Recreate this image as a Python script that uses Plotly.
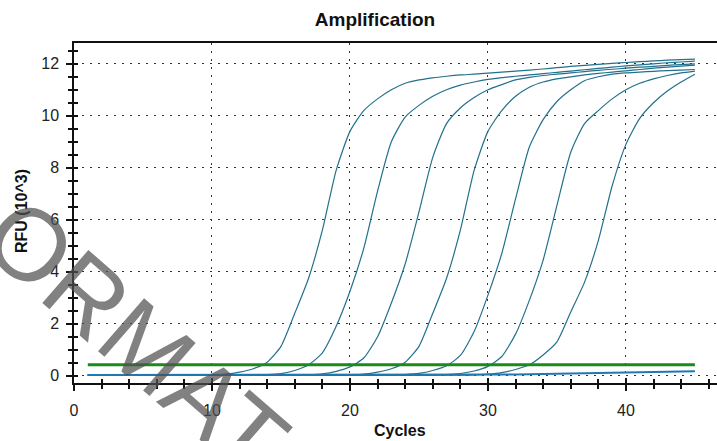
import plotly.graph_objects as go

cycles = list(range(1, 46))

curve_1 = [0.02]*9 + [0.03, 0.06, 0.14, 0.27, 0.52, 1.13, 2.4, 3.75, 5.6, 7.9, 9.4, 10.2, 10.65, 11.0, 11.25,
           11.38, 11.46, 11.52, 11.57, 11.6, 11.64, 11.68, 11.72, 11.76, 11.8, 11.85, 11.9, 11.94, 11.98,
           12.02, 12.05, 12.08, 12.11, 12.14, 12.16, 12.18]
curve_2 = [0.02]*12 + [0.025, 0.04, 0.08, 0.2, 0.42, 0.88, 1.9, 3.25, 4.9, 7.1, 9.0, 9.95, 10.4, 10.75, 11.0,
           11.18, 11.3, 11.4, 11.47, 11.52, 11.57, 11.62, 11.67, 11.72, 11.77, 11.82, 11.87, 11.92, 11.96,
           12.0, 12.04, 12.07, 12.1]
curve_3 = [0.02]*16 + [0.04, 0.075, 0.17, 0.34, 0.68, 1.5, 2.8, 4.3, 6.3, 8.4, 9.7, 10.3, 10.7, 11.0, 11.2,
           11.38, 11.48, 11.55, 11.6, 11.65, 11.7, 11.75, 11.79, 11.83, 11.87, 11.9, 11.94, 11.97, 12.0]
curve_4 = [0.02]*19 + [0.03, 0.06, 0.14, 0.27, 0.52, 1.13, 2.4, 3.75, 5.6, 7.9, 9.4, 10.2, 10.75, 11.1, 11.3,
           11.42, 11.5, 11.57, 11.63, 11.68, 11.73, 11.78, 11.83, 11.87, 11.91, 11.95]
curve_5 = [0.02]*22 + [0.025, 0.045, 0.09, 0.2, 0.38, 0.78, 1.7, 3.1, 4.7, 6.8, 8.8, 9.85, 10.55, 11.0, 11.35,
           11.5, 11.6, 11.65, 11.68, 11.71, 11.74, 11.76, 11.78]
curve_6 = [0.02]*25 + [0.025, 0.04, 0.085, 0.18, 0.36, 0.74, 1.6, 2.9, 4.45, 6.55, 8.6, 9.7, 10.2, 10.65,
           11.0, 11.25, 11.42, 11.55, 11.65, 11.72]
curve_7 = [0.02]*28 + [0.03, 0.06, 0.12, 0.24, 0.42, 0.8, 1.3, 2.45, 3.6, 5.2, 7.3, 8.9, 9.9, 10.5, 10.95,
           11.3, 11.6]
ntc = [0.03]*30 + [0.04, 0.05, 0.06, 0.07, 0.085, 0.1, 0.11, 0.12, 0.13, 0.14, 0.15, 0.16, 0.165, 0.17, 0.175]

amplified = [curve_1, curve_2, curve_3, curve_4, curve_5, curve_6, curve_7]

threshold_cycles = [1, 45]
threshold_value = 0.42

x_ticks = [0, 10, 20, 30, 40]
y_ticks = [0, 2, 4, 6, 8, 10, 12]
x_range = [0, 46.6]
y_range = [-0.28, 12.8]

FONT = "Liberation Sans, Arial, sans-serif"

fig = go.Figure()
for ys in amplified:
    fig.add_trace(go.Scatter(x=cycles, y=ys, mode="lines",
                             line=dict(color="#23708c", width=1.2, shape="spline", smoothing=0.6),
                             showlegend=False))
fig.add_trace(go.Scatter(x=cycles, y=ntc, mode="lines",
                         line=dict(color="#1f78b4", width=2), showlegend=False))
fig.add_trace(go.Scatter(x=threshold_cycles, y=[threshold_value]*len(threshold_cycles), mode="lines",
                         line=dict(color="#1a8a1a", width=3), showlegend=False))
# empty trace to carry the overlay axes (inner half of crossing ticks)
fig.add_trace(go.Scatter(x=[], y=[], xaxis="x2", yaxis="y2", showlegend=False, hoverinfo="skip"))

W, H = 717, 441
L, R, T, B = 74, 0, 43, 58

tick_common = dict(tickcolor="#111", tickwidth=1.5)

fig.update_layout(
    width=W, height=H,
    margin=dict(l=L, r=R, t=T, b=B),
    paper_bgcolor="white", plot_bgcolor="white",
    font=dict(family=FONT, size=16, color="#222"),
    title=dict(text="<b>Amplification</b>", x=375/W, xref="container", xanchor="center",
               y=1-19/H, yref="container", yanchor="middle",
               font=dict(family=FONT, size=19, color="#111")),
    xaxis=dict(range=x_range, tickmode="array", tickvals=x_ticks,
               showline=True, linecolor="#111", linewidth=1.5, mirror=True,
               ticks="outside", ticklen=6, **tick_common, ticklabelstandoff=6,
               minor=dict(dtick=2, tick0=0, ticks="outside", ticklen=4, tickcolor="#111", showgrid=False),
               showgrid=True, gridcolor="#333", griddash="2px,6px", gridwidth=1,
               zeroline=False, tickfont=dict(size=16, color="#222")),
    yaxis=dict(range=y_range, tickmode="array", tickvals=y_ticks,
               showline=True, linecolor="#111", linewidth=1.5,
               ticks="outside", ticklen=6, **tick_common, ticklabelstandoff=4,
               minor=dict(dtick=0.5, tick0=0, ticks="outside", ticklen=4, tickcolor="#111", showgrid=False),
               showgrid=True, gridcolor="#333", griddash="2px,6px", gridwidth=1,
               zeroline=False, tickfont=dict(size=16, color="#222")),
    xaxis2=dict(range=x_range, overlaying="x", anchor="y2", side="bottom", tickmode="array", tickvals=x_ticks,
                showline=False, showgrid=False, zeroline=False, showticklabels=False,
                ticks="inside", ticklen=5, **tick_common,
                minor=dict(dtick=2, tick0=0, ticks="inside", ticklen=4, tickcolor="#111", showgrid=False)),
    yaxis2=dict(range=y_range, overlaying="y", anchor="x2", side="left", tickmode="array", tickvals=y_ticks,
                showline=False, showgrid=False, zeroline=False, showticklabels=False,
                ticks="inside", ticklen=4, **tick_common,
                minor=dict(dtick=0.5, tick0=0, ticks="inside", ticklen=4, tickcolor="#111", showgrid=False)),
)

# axis titles as annotations
fig.add_annotation(text="<b>Cycles</b>", xref="paper", yref="paper",
                   x=(400-L)/(W-L-R), y=-(430-(H-B))/(H-T-B), showarrow=False,
                   xanchor="center", yanchor="middle", font=dict(family=FONT, size=16, color="#111"))
fig.add_annotation(text="<b>RFU (10^3)</b>", xref="paper", yref="paper",
                   x=-(L-21)/(W-L-R), y=((H-B)-211)/(H-T-B), showarrow=False, textangle=-90,
                   xanchor="center", yanchor="middle", font=dict(family=FONT, size=16, color="#111"))

# watermark
fig.add_annotation(text="ORMAT", xref="paper", yref="paper",
                   x=(135-L)/(W-L-R), y=((H-B)-337)/(H-T-B), showarrow=False, textangle=41,
                   xanchor="center", yanchor="middle",
                   font=dict(family=FONT, size=102, color="rgba(80,80,80,0.72)"))

fig.write_html("out.html", config={"displayModeBar": False},
               post_script="document.body.style.margin='0';document.body.style.padding='0';")
